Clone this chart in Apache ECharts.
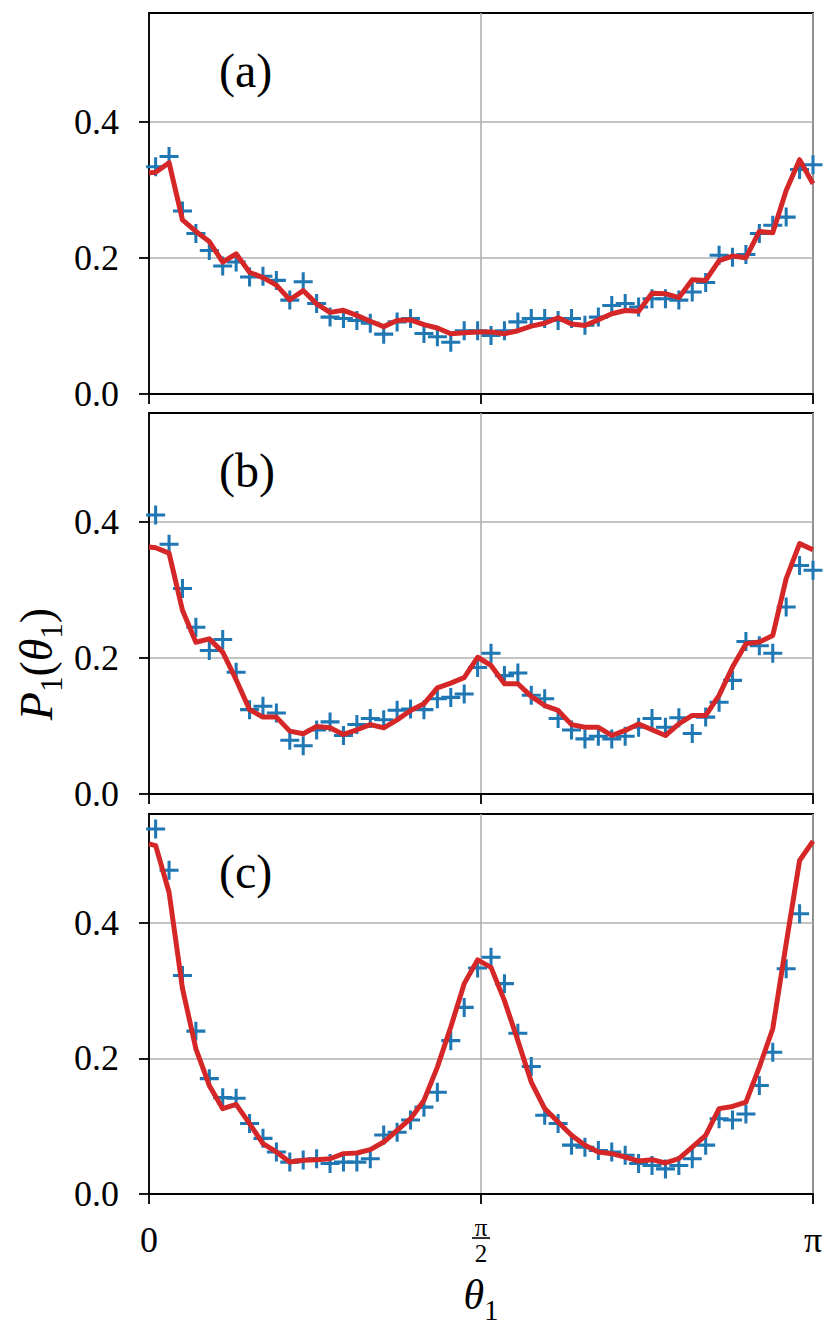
<!DOCTYPE html>
<html><head><meta charset="utf-8">
<script src="https://cdn.jsdelivr.net/npm/echarts@6/dist/echarts.min.js"></script>
<style>html,body{margin:0;padding:0;background:#fff}#c{width:830px;height:1327px}</style>
</head><body><div id="c"></div>
<script>
// ---------------- data ----------------
const panelLabels = ['(a)', '(b)', '(c)'];
const yTickValues = [0, 0.2, 0.4];
const yTickLabels = ['0.0', '0.2', '0.4'];
const xTickValues = [0, Math.PI / 2, Math.PI];
const xTickLabels = ['0', 'π/2', 'π'];
const sampleCount = 50;           // samples from π/100 to π
const thetaFirst = Math.PI / 100;
const thetaLast = Math.PI;

// blue "+" samples
const markersA = [0.334, 0.349, 0.269, 0.236, 0.211, 0.188, 0.194, 0.172, 0.173, 0.167,
  0.138, 0.165, 0.133, 0.113, 0.111, 0.108, 0.104, 0.088, 0.106, 0.111,
  0.089, 0.084, 0.076, 0.093, 0.093, 0.086, 0.093, 0.106, 0.111, 0.111,
  0.108, 0.111, 0.101, 0.113, 0.130, 0.133, 0.128, 0.140, 0.140, 0.138,
  0.150, 0.164, 0.204, 0.201, 0.205, 0.236, 0.248, 0.260, 0.330, 0.337];
const markersB = [0.410, 0.367, 0.302, 0.245, 0.211, 0.227, 0.179, 0.124, 0.129, 0.119,
  0.079, 0.071, 0.094, 0.106, 0.086, 0.102, 0.111, 0.109, 0.123, 0.125,
  0.124, 0.140, 0.142, 0.147, 0.186, 0.207, 0.174, 0.178, 0.145, 0.140,
  0.111, 0.094, 0.081, 0.085, 0.081, 0.085, 0.098, 0.111, 0.098, 0.112,
  0.089, 0.113, 0.135, 0.167, 0.224, 0.218, 0.207, 0.275, 0.336, 0.329];
const markersC = [0.538, 0.477, 0.322, 0.240, 0.170, 0.142, 0.141, 0.104, 0.082, 0.062,
  0.047, 0.050, 0.052, 0.045, 0.047, 0.047, 0.052, 0.087, 0.091, 0.109,
  0.128, 0.150, 0.226, 0.275, 0.333, 0.349, 0.310, 0.237, 0.188, 0.116,
  0.104, 0.072, 0.069, 0.064, 0.062, 0.057, 0.045, 0.042, 0.037, 0.042,
  0.052, 0.072, 0.111, 0.109, 0.118, 0.160, 0.209, 0.332, 0.413, 0.600];

// red curve: value at θ=0, then at the 50 sample angles
const lineA = [0.325, 0.326, 0.340, 0.256, 0.239, 0.224, 0.194, 0.206, 0.179, 0.171, 0.160,
  0.1385, 0.152, 0.1325, 0.120, 0.123, 0.1155, 0.107, 0.099, 0.108, 0.109,
  0.102, 0.097, 0.0885, 0.090, 0.091, 0.091, 0.0885, 0.093, 0.0997, 0.104,
  0.112, 0.103, 0.1007, 0.109, 0.118, 0.1228, 0.1218, 0.148, 0.1474, 0.1415,
  0.168, 0.167, 0.196, 0.2027, 0.2003, 0.239, 0.237, 0.299, 0.3444, 0.309];
const lineB = [0.363, 0.362, 0.354, 0.270, 0.223, 0.228, 0.2085, 0.168, 0.124, 0.113, 0.113,
  0.0924, 0.0885, 0.0993, 0.0973, 0.0875, 0.0944, 0.102, 0.0973, 0.109, 0.1228,
  0.1326, 0.156, 0.163, 0.171, 0.201, 0.189, 0.162, 0.162, 0.1434, 0.130,
  0.1228, 0.102, 0.098, 0.098, 0.086, 0.0934, 0.103, 0.0944, 0.086, 0.103,
  0.1154, 0.1154, 0.1449, 0.1865, 0.221, 0.2233, 0.233, 0.3165, 0.368, 0.359];
const lineC = [0.516, 0.5135, 0.4447, 0.303, 0.214, 0.160, 0.1258, 0.132, 0.1037, 0.0742, 0.0619,
  0.0471, 0.0496, 0.0506, 0.052, 0.0595, 0.0604, 0.0654, 0.0766, 0.0938, 0.111,
  0.138, 0.187, 0.246, 0.310, 0.345, 0.334, 0.285, 0.226, 0.165, 0.1258,
  0.106, 0.0865, 0.0717, 0.0619, 0.0594, 0.0545, 0.0486, 0.0506, 0.0457, 0.052,
  0.0692, 0.0865, 0.1258, 0.129, 0.1355, 0.187, 0.2436, 0.369, 0.4915, 0.520];

// ---------------- build ----------------
const step = (thetaLast - thetaFirst) / (sampleCount - 1);
const thetaGrid = [];
for (let k = 0; k < sampleCount; k++) thetaGrid.push(Math.min(thetaFirst + k * step, Math.PI));
const thetaLine = [0].concat(thetaGrid);

const markerSets = [markersA, markersB, markersC];
const lineSets = [lineA, lineB, lineC];

const FONT = 'Liberation Serif';
const BLUE = '#1f77b4', RED = '#d62728', GRIDC = '#b0b0b0';
const gridLeft = 149, gridWidth = 664;
const gridTops = [13, 413, 814];
const gridHeights = [381, 381, 380];
const plusPath = 'path://M-0.08,-0.5L0.08,-0.5L0.08,-0.08L0.5,-0.08L0.5,0.08L0.08,0.08L0.08,0.5L-0.08,0.5L-0.08,0.08L-0.5,0.08L-0.5,-0.08L-0.08,-0.08Z';
const xLabelMargin = 46;

const grids = [], xAxes = [], yAxes = [], series = [];
for (let p = 0; p < 3; p++) {
  grids.push({ left: gridLeft, top: gridTops[p], width: gridWidth, height: gridHeights[p],
    show: true, borderColor: '#000', borderWidth: 1.8, backgroundColor: 'transparent',
    containLabel: false, outerBoundsMode: 'none' });
  const last = p === 2;
  xAxes.push({
    type: 'value', gridIndex: p, min: 0, max: Math.PI, interval: Math.PI / 2,
    axisLine: { show: true, onZero: false, lineStyle: { color: '#000', width: 1.8 } },
    axisTick: { show: true, length: 10, lineStyle: { color: '#000', width: 1.8 } },
    splitLine: { show: true, lineStyle: { color: GRIDC, width: 1.6 } },
    axisLabel: {
      show: last, margin: xLabelMargin, verticalAlign: 'middle', color: '#000', fontFamily: FONT, fontSize: 35,
      showMinLabel: true, showMaxLabel: true, hideOverlap: false,
      formatter: function (v) {
        if (Math.abs(v) < 1e-9) return '{big|' + xTickLabels[0] + '}';
        if (Math.abs(v - Math.PI / 2) < 1e-6) return '{num|π}\n{den|2}';
        return '{big|' + xTickLabels[2] + '}';
      },
      rich: {
        big: { fontFamily: FONT, fontSize: 36, color: '#000', lineHeight: 40 },
        num: { fontFamily: FONT, fontSize: 25, color: '#000', lineHeight: 26 },
        den: { fontFamily: FONT, fontSize: 25, color: '#000', lineHeight: 26 }
      }
    },
    name: last ? '{i|θ}{s|1}' : '', nameLocation: 'middle', nameGap: 80,
    nameTextStyle: { rich: {
      i: { fontFamily: FONT, fontStyle: 'italic', fontSize: 42, color: '#000', lineHeight: 50, verticalAlign: 'top' },
      s: { fontFamily: FONT, fontSize: 29, color: '#000', lineHeight: 50, verticalAlign: 'bottom' }
    } }
  });
  yAxes.push({
    type: 'value', gridIndex: p, min: 0, max: 0.56, interval: 0.2,
    axisLine: { show: true, lineStyle: { color: '#000', width: 1.8 } },
    axisTick: { show: true, length: 10, customValues: yTickValues, lineStyle: { color: '#000', width: 1.8 } },
    splitLine: { show: true, lineStyle: { color: GRIDC, width: 1.6 } },
    axisLabel: {
      show: true, margin: 30, color: '#000', fontFamily: FONT, fontSize: 36,
      customValues: yTickValues, showMaxLabel: true,
      formatter: function (v) {
        const i = yTickValues.findIndex(t => Math.abs(t - v) < 1e-9);
        return i >= 0 ? yTickLabels[i] : '';
      }
    }
  });
  const marks = markerSets[p].map((v, k) => [thetaGrid[k], v]);
  const curve = lineSets[p].map((v, k) => [thetaLine[k], v]);
  series.push({
    type: 'scatter', xAxisIndex: p, yAxisIndex: p, data: marks, symbol: plusPath, symbolSize: 19,
    itemStyle: { color: BLUE, opacity: 1 }, z: 2, silent: true, animation: false
  });
  series.push({
    type: 'line', xAxisIndex: p, yAxisIndex: p, data: curve, showSymbol: false, symbol: 'none',
    lineStyle: { color: RED, width: 5, join: 'round', cap: 'butt' }, z: 3, silent: true, animation: false
  });
}

const graphic = panelLabels.map((t, p) => ({
  type: 'text', x: 219, y: gridTops[p] + 57,
  style: { text: t, fontFamily: FONT, fontSize: 48, fill: '#000', align: 'left', verticalAlign: 'middle' }
}));
graphic.push({
  type: 'text', x: 40, y: 664, rotation: Math.PI / 2,
  style: {
    text: '{i|P}{s|1}{n|(}{i|θ}{s|1}{n|)}', align: 'center', verticalAlign: 'middle',
    rich: {
      i: { fontFamily: FONT, fontStyle: 'italic', fontSize: 46, fill: '#000', lineHeight: 54, verticalAlign: 'top' },
      n: { fontFamily: FONT, fontSize: 46, fill: '#000', lineHeight: 54, verticalAlign: 'top' },
      s: { fontFamily: FONT, fontSize: 31, fill: '#000', lineHeight: 54, verticalAlign: 'bottom' }
    }
  }
});

const chart = echarts.init(document.getElementById('c'), null, { renderer: 'svg', width: 830, height: 1327 });
chart.setOption({
  backgroundColor: '#fff', animation: false,
  grid: grids, xAxis: xAxes, yAxis: yAxes, series: series, graphic: graphic
});
// fraction bar of the π/2 tick label, placed from the axis scale
const tickPx = chart.convertToPixel({ xAxisIndex: 2, yAxisIndex: 2 }, [xTickValues[1], 0]);
graphic.push({
  type: 'line', silent: true,
  shape: { x1: tickPx[0] - 9, y1: tickPx[1] + xLabelMargin - 2, x2: tickPx[0] + 9, y2: tickPx[1] + xLabelMargin - 2 },
  style: { stroke: '#000', lineWidth: 1.6 }
});
chart.setOption({ graphic: graphic });
</script></body></html>
